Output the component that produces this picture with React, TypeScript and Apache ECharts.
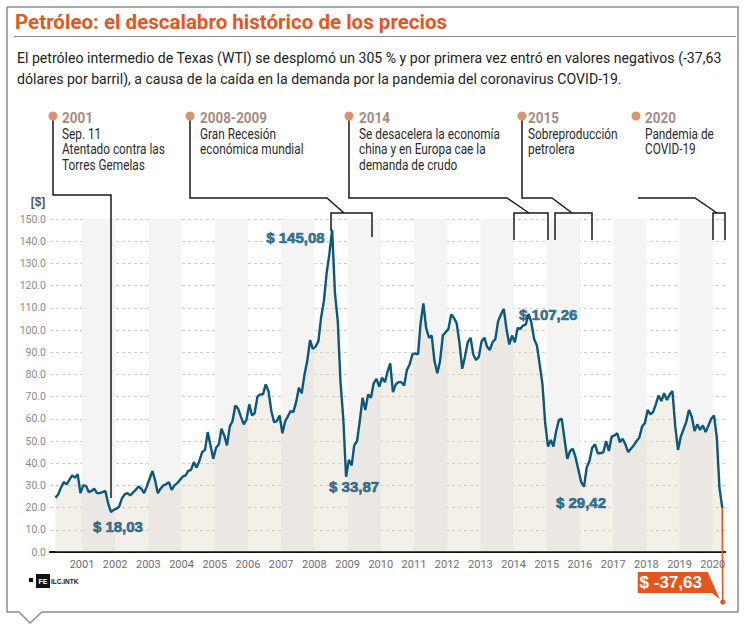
import React, { useEffect, useRef } from "react";
import * as echarts from "echarts";

// ---- Data: WTI price, USD per barrel (monthly readings from the picture) ----
const wti2000 = [24.5, 26.0, 29.0, 31.5, 30.5, 32.5, 34.5, 33.5, 35.0, 26.5]; // Mar–Dec
const wti2001 = [30.0, 29.8, 27.0, 27.5, 28.5, 26.5, 26.5, 27.0, 27.5, 22.0, 18.03, 19.0];
const wti2002 = [19.5, 20.5, 24.0, 26.0, 26.5, 25.5, 26.8, 28.0, 29.5, 28.5, 26.5, 29.5];
const wti2003 = [33.0, 36.5, 32.5, 26.5, 28.5, 30.0, 30.5, 31.5, 28.0, 30.0, 31.0, 32.5];
const wti2004 = [34.0, 34.5, 36.5, 37.0, 40.5, 38.0, 41.0, 45.0, 46.0, 54.0, 48.0, 42.0];
const wti2005 = [47.0, 48.5, 55.5, 52.5, 48.0, 56.5, 59.0, 66.0, 64.5, 61.0, 57.5, 59.5];
const wti2006 = [66.5, 61.5, 62.5, 70.0, 71.0, 71.0, 75.5, 72.5, 63.5, 58.5, 59.0, 61.5];
const wti2007 = [53.5, 59.0, 61.0, 63.5, 63.0, 67.5, 74.0, 71.5, 80.0, 86.0, 95.5, 91.5];
const wti2008 = [92.5, 95.0, 105.5, 113.0, 125.5, 134.5, 145.08, 116.5, 104.0, 76.5, 60.0, 33.87];
const wti2009 = [41.5, 39.0, 48.0, 50.0, 59.0, 69.5, 64.0, 71.0, 69.5, 76.0, 78.0, 74.5];
const wti2010 = [78.5, 76.5, 81.0, 85.0, 72.0, 75.5, 76.5, 76.5, 75.0, 82.0, 84.5, 89.0];
const wti2011 = [89.5, 89.0, 103.0, 112.0, 101.0, 96.5, 97.5, 86.0, 80.5, 86.0, 97.5, 99.0];
const wti2012 = [100.5, 107.0, 105.5, 103.0, 94.5, 82.5, 88.0, 94.5, 96.5, 89.0, 86.5, 88.0];
const wti2013 = [95.0, 96.5, 92.5, 91.0, 94.5, 96.0, 104.0, 107.0, 109.5, 100.5, 93.5, 97.5];
const wti2014 = [94.5, 101.0, 100.5, 102.0, 102.5, 107.26, 103.5, 96.0, 93.0, 84.5, 75.5, 58.0];
const wti2015 = [47.5, 50.5, 47.5, 54.5, 59.5, 60.0, 51.0, 42.0, 45.5, 46.5, 42.5, 37.0];
const wti2016 = [31.5, 29.42, 38.0, 41.0, 47.0, 48.5, 44.5, 44.5, 45.0, 50.0, 45.5, 52.0];
const wti2017 = [52.5, 53.5, 49.5, 51.0, 48.5, 45.0, 46.5, 48.0, 50.0, 51.5, 56.5, 58.0];
const wti2018 = [64.0, 62.0, 63.0, 66.5, 70.5, 68.0, 71.5, 68.5, 71.0, 72.5, 56.5, 46.0];
const wti2019 = [52.0, 55.5, 58.5, 64.0, 61.0, 54.5, 57.5, 55.0, 57.0, 54.0, 57.0, 60.0];
const wti2020 = [61.5, 51.5, 29.0, 19.9]; // Jan–Apr

const yearBlocks: [number, number, number[]][] = [
  [2000, 3, wti2000], [2001, 1, wti2001], [2002, 1, wti2002], [2003, 1, wti2003],
  [2004, 1, wti2004], [2005, 1, wti2005], [2006, 1, wti2006], [2007, 1, wti2007],
  [2008, 1, wti2008], [2009, 1, wti2009], [2010, 1, wti2010], [2011, 1, wti2011],
  [2012, 1, wti2012], [2013, 1, wti2013], [2014, 1, wti2014], [2015, 1, wti2015],
  [2016, 1, wti2016], [2017, 1, wti2017], [2018, 1, wti2018], [2019, 1, wti2019],
  [2020, 1, wti2020],
];

// Highlighted extremes
const extremeDates = ["2001-11-15", "2008-07-15", "2008-12-15", "2014-06-15", "2016-02-15"];
const extremeValues = [18.03, 145.08, 33.87, 107.26, 29.42];

// Negative close (April 20, 2020)
const dropDate = "2020-04-20";
const dropValue = -37.63;

// Axis
const xMin = "2000-01-15";
const xMax = "2020-05-15";
const yMin = 0;
const yMax = 150;
const yStep = 10;

// Texts
const titleText = "Petróleo: el descalabro histórico de los precios";
const subtitleLines = [
  "El petróleo intermedio de Texas (WTI) se desplomó un 305 % y por primera vez entró en valores negativos (-37,63",
  "dólares por barril), a causa de la caída en la demanda por la pandemia del coronavirus COVID-19.",
];
const annYears = ["2001", "2008-2009", "2014", "2015", "2020"];
const annTexts = [
  ["Sep. 11", "Atentado contra las", "Torres Gemelas"],
  ["Gran Recesión", "económica mundial"],
  ["Se desacelera la economía", "china y en Europa cae la", "demanda de crudo"],
  ["Sobreproducción", "petrolera"],
  ["Pandemia de", "COVID-19"],
];

// ---- style / layout constants ----
const BLUE = "#0c587b";
const ORANGE = "#e4561d";
const TXT_FONT = "Roboto";
const HEAVY = "'Liberation Sans', Arial, sans-serif";
const BELOW_ZERO_PX = 50 / 37.63; // compressed scale for the off-axis drop

const annDotX = [53, 190, 349, 522, 636];
const annTextX = [62, 200, 359, 528, 645];
const annConnectors: number[][][] = [
  [[53, 116], [53, 195], [111, 195], [111, 498]],
  [[190, 116], [190, 198], [327, 198], [344, 213]],
  [[349, 116], [349, 198], [507, 198], [529, 213]],
  [[522, 116], [522, 198], [552, 198], [572, 213]],
  [[638, 198], [695, 198], [717, 213]],
];
const annBrackets: number[][][] = [
  [],
  [[331, 231], [331, 213], [372, 213], [372, 237]],
  [[514, 240], [514, 213], [548, 213], [548, 240]],
  [[555, 240], [555, 213], [592, 213], [592, 240]],
  [[713, 240], [713, 213], [725, 213], [725, 240]],
];
const extremeLabelPlacement: any[] = [
  { position: "bottom", distance: 7, offset: [7, 0] },
  { position: "left", distance: 7, offset: [0, 8] },
  { position: "bottom", distance: 2, offset: [8, 0] },
  { position: "right", distance: 0, offset: [-10, 1] },
  { position: "bottom", distance: 8, offset: [-3, 0] },
];

function measure(text: string, font: string): number {
  const c = document.createElement("canvas").getContext("2d");
  if (!c) return text.length * 7;
  c.font = font;
  return c.measureText(text).width;
}

const fmtComma = (v: number) => v.toFixed(2).replace(".", ",");

export default function App() {
  const ref = useRef<HTMLDivElement>(null);

  useEffect(() => {
    document.body.style.margin = "0";
    if (!ref.current) return;
    const chart = echarts.init(ref.current, null, { renderer: "svg" });

    const lineData: [string, number][] = [];
    yearBlocks.forEach(([year, startMonth, vals]) => {
      vals.forEach((v, i) => {
        const m = startMonth + i;
        lineData.push([`${year}-${String(m).padStart(2, "0")}-15`, v]);
      });
    });
    const last = lineData[lineData.length - 1];

    const titleScale = 432 / measure(titleText, `bold 21px ${TXT_FONT}`);
    const subScale = 705 / measure(subtitleLines[0], `15px ${TXT_FONT}`);
    const annScale = 141 / measure(annTexts[2][0], `14px ${TXT_FONT}`);
    const yearScale = 67 / measure(annYears[1], `bold 14px ${TXT_FONT}`);

    const graphics: any[] = [];
    // frame
    graphics.push({
      type: "polyline",
      z: 20,
      shape: {
        points: [[7, 7], [738, 7], [738, 612], [42, 612], [30, 623], [19, 612], [7, 612], [7, 7]],
      },
      style: { stroke: "#8d8d8d", lineWidth: 1.5, fill: null },
    });
    graphics.push({
      type: "text", x: 15, y: 22, scaleX: titleScale, z: 20,
      style: { text: titleText, fontFamily: TXT_FONT, fontWeight: "bold", fontSize: 21, fill: "#e2581f", verticalAlign: "middle" },
    });
    graphics.push({
      type: "line", z: 20, shape: { x1: 14, y1: 36.5, x2: 736, y2: 36.5 },
      style: { stroke: "#8a8a8a", lineWidth: 1 },
    });
    subtitleLines.forEach((t, i) => {
      graphics.push({
        type: "text", x: 17, y: 58 + i * 21, scaleX: subScale, z: 20,
        style: { text: t, fontFamily: TXT_FONT, fontSize: 15, fill: "#222", verticalAlign: "middle" },
      });
    });
    // annotations
    annYears.forEach((yr, i) => {
      graphics.push({
        type: "polyline", z: 20, shape: { points: annConnectors[i] },
        style: { stroke: "#1a1a1a", lineWidth: 1.5, fill: null },
      });
      if (annBrackets[i].length) {
        graphics.push({
          type: "polyline", z: 20, shape: { points: annBrackets[i] },
          style: { stroke: "#1a1a1a", lineWidth: 1.5, fill: null },
        });
      }
      graphics.push({
        type: "circle", z: 21, shape: { cx: annDotX[i], cy: 116, r: 4.5 },
        style: { fill: "#d9946d" },
      });
      graphics.push({
        type: "text", x: annTextX[i], y: 118, scaleX: yearScale, z: 21,
        style: { text: yr, fontFamily: TXT_FONT, fontWeight: "bold", fontSize: 14, fill: "#a68b7f", verticalAlign: "middle" },
      });
      annTexts[i].forEach((t, j) => {
        graphics.push({
          type: "text", x: annTextX[i], y: 134 + j * 15.5, scaleX: annScale, z: 21,
          style: { text: t, fontFamily: TXT_FONT, fontSize: 14, fill: "#2a2a2a", verticalAlign: "middle" },
        });
      });
    });
    // unit label
    graphics.push({
      type: "text", x: 38, y: 202, z: 20,
      style: { text: "[$]", fontFamily: HEAVY, fontWeight: "bold", fontSize: 12, fill: "#555", align: "center", verticalAlign: "middle" },
    });
    // logo
    graphics.push({ type: "rect", z: 20, shape: { x: 29, y: 578, width: 4, height: 4 }, style: { fill: "#111" } });
    graphics.push({ type: "rect", z: 20, shape: { x: 36, y: 574, width: 14, height: 14 }, style: { fill: "#111" } });
    graphics.push({
      type: "text", x: 43, y: 581, z: 21,
      style: { text: "FE", fontFamily: HEAVY, fontWeight: "bold", fontSize: 7, fill: "#fff", align: "center", verticalAlign: "middle" },
    });
    graphics.push({
      type: "text", x: 51, y: 581, z: 21,
      style: { text: "ILC.INTK", fontFamily: HEAVY, fontWeight: "bold", fontSize: 6.5, fill: "#111", verticalAlign: "middle" },
    });

    const option: any = {
      animation: false,
      backgroundColor: "#ffffff",
      grid: { left: 50, right: 21, top: 219, bottom: 72, containLabel: false, outerBoundsMode: "none" },
      xAxis: {
        type: "time",
        min: xMin,
        max: xMax,
        splitNumber: 20,
        minInterval: 365 * 864e5,
        maxInterval: 366 * 864e5,
        axisLine: { show: true, onZero: true, lineStyle: { color: "#111", width: 2 } },
        axisTick: { show: false },
        axisLabel: {
          showMinLabel: false,
          showMaxLabel: false,
          color: "#707070",
          fontSize: 11,
          fontFamily: TXT_FONT,
          margin: 7,
          formatter: (v: number) => String(new Date(v).getFullYear()),
        },
        splitLine: { show: false },
        splitArea: { show: true, areaStyle: { color: ["rgba(255,255,255,0)", "#f4f4f5"] } },
      },
      yAxis: {
        type: "value",
        min: yMin,
        max: yMax,
        interval: yStep,
        axisLine: { show: false },
        axisTick: { show: false },
        axisLabel: {
          color: "#8a8a8a",
          fontSize: 10.5,
          fontFamily: TXT_FONT,
          margin: 4,
          formatter: (v: number) => v.toFixed(1),
        },
        splitLine: { lineStyle: { type: [3, 3], color: "#cdcdcd", width: 1 } },
      },
      graphic: graphics,
      series: [
        {
          type: "line",
          name: "WTI",
          data: lineData,
          showSymbol: false,
          silent: true,
          z: 3,
          lineStyle: { color: BLUE, width: 2.4 },
          areaStyle: { color: "rgba(214,202,180,0.42)" },
        },
        {
          type: "scatter",
          name: "extremos",
          z: 6,
          silent: true,
          symbolSize: 1,
          itemStyle: { color: "rgba(0,0,0,0)" },
          data: extremeDates.map((d, i) => ({
            value: [d, extremeValues[i]],
            label: {
              show: true,
              formatter: "$ " + fmtComma(extremeValues[i]),
              color: BLUE,
              textBorderColor: BLUE,
              textBorderWidth: 0.7,
              fontFamily: HEAVY,
              fontWeight: "bold",
              fontSize: 15,
              ...extremeLabelPlacement[i],
            },
          })),
        },
        {
          type: "custom",
          name: "caída",
          z: 7,
          silent: true,
          clip: false,
          data: [[new Date(dropDate).getTime(), dropValue, new Date(last[0]).getTime(), last[1]]],
          encode: { x: 0, y: 1 },
          renderItem: (_params: any, api: any) => {
            const d = api.value(0);
            const v = api.value(1);
            const p0 = api.coord([api.value(2), api.value(3)]);
            const z0 = api.coord([d, 0]);
            const ex = z0[0];
            const ey = z0[1] + -v * BELOW_ZERO_PX;
            return {
              type: "group",
              children: [
                { type: "line", shape: { x1: p0[0], y1: p0[1], x2: ex, y2: ey }, style: { stroke: ORANGE, lineWidth: 1.6 } },
                { type: "circle", shape: { cx: ex, cy: ey, r: 2.6 }, style: { fill: ORANGE } },
                {
                  type: "polygon",
                  shape: { points: [[ex - 85, ey - 30], [ex - 15, ey - 30], [ex - 3, ey - 3], [ex - 11, ey - 9], [ex - 85, ey - 9]] },
                  style: { fill: ORANGE },
                },
                {
                  type: "text",
                  x: ex - 52,
                  y: ey - 20,
                  style: { text: "$ " + fmtComma(v), fill: "#ffffff", fontFamily: HEAVY, fontWeight: "bold", fontSize: 17, align: "center", verticalAlign: "middle" },
                },
              ],
            };
          },
        },
      ],
    };

    chart.setOption(option);
    return () => chart.dispose();
  }, []);

  return <div ref={ref} style={{ width: 746, height: 624 }} />;
}
